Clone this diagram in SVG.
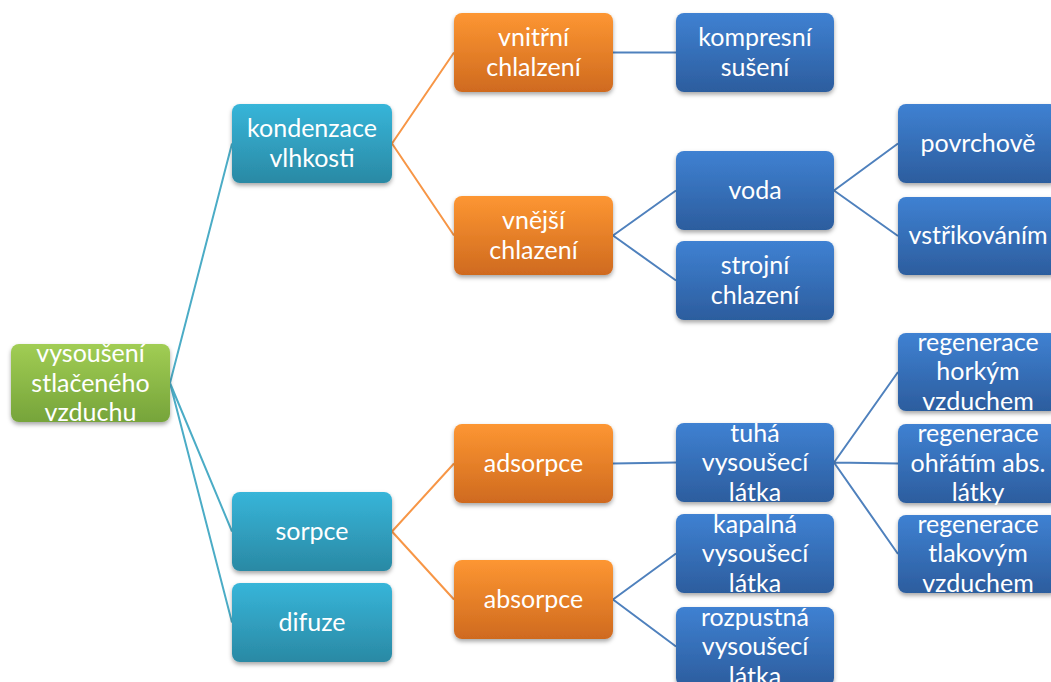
<svg xmlns="http://www.w3.org/2000/svg" width="1051" height="682" viewBox="0 0 1051 682">
<defs>
<linearGradient id="gGreen" x1="0" y1="0" x2="0" y2="1"><stop offset="0" stop-color="#a1cd54"/><stop offset="1" stop-color="#76a43a"/></linearGradient>
<linearGradient id="gTeal" x1="0" y1="0" x2="0" y2="1"><stop offset="0" stop-color="#37b5d9"/><stop offset="1" stop-color="#2a89a4"/></linearGradient>
<linearGradient id="gOrange" x1="0" y1="0" x2="0" y2="1"><stop offset="0" stop-color="#fd9632"/><stop offset="1" stop-color="#cf6a1f"/></linearGradient>
<linearGradient id="gBlue" x1="0" y1="0" x2="0" y2="1"><stop offset="0" stop-color="#3f81d2"/><stop offset="1" stop-color="#2c5d9e"/></linearGradient>
<filter id="sh" x="-10%" y="-10%" width="120%" height="130%"><feDropShadow dx="0" dy="2.5" stdDeviation="2" flood-color="#000" flood-opacity="0.35"/></filter>
</defs>
<style>
.box{filter:url(#sh)}
.g{fill:url(#gGreen)}
.t{fill:url(#gTeal)}
.o{fill:url(#gOrange)}
.b{fill:url(#gBlue)}
text{font-family:Lato,"Liberation Sans",sans-serif;font-size:25px;fill:#fff;text-anchor:middle}
.lt{stroke:#4bacc6;stroke-width:2;fill:none}
.lo{stroke:#f79646;stroke-width:2;fill:none}
.lb{stroke:#4f81bd;stroke-width:2;fill:none}
</style>
<rect width="1051" height="682" fill="#fff"/>
<g id="connectors">
<path class="lt" d="M170 383 L232 143.5 M170 383 L232 531.5 M170 383 L232 622.5"/>
<path class="lo" d="M392 143.5 L454 52.5 M392 143.5 L454 235.5 M392 531.5 L454 463.5 M392 531.5 L454 599.5"/>
<path class="lb" d="M613 52.5 L676 52.5 M613 235.5 L676 190.5 M613 235.5 L676 280.5 M834 190.5 L898 143.5 M834 190.5 L898 236 M613 463.5 L676 462.5 M613 599.5 L676 553.5 M613 599.5 L676 646.5 M834 462.5 L898 372 M834 462.5 L898 463.5 M834 462.5 L898 554"/>
</g>
<g id="n-root"><rect class="box g" x="11" y="344" width="159" height="78" rx="8"/><text x="90.5" y="362">vysoušení</text><text x="90.5" y="391.5">stlačeného</text><text x="90.5" y="421">vzduchu</text></g>
<g id="n-kondenzace"><rect class="box t" x="232" y="104" width="160" height="79" rx="8"/><text x="312" y="137">kondenzace</text><text x="312" y="166.5">vlhkosti</text></g>
<g id="n-sorpce"><rect class="box t" x="232" y="492" width="160" height="79" rx="8"/><text x="312" y="539.5">sorpce</text></g>
<g id="n-difuze"><rect class="box t" x="232" y="583" width="160" height="79" rx="8"/><text x="312" y="630.5">difuze</text></g>
<g id="n-vnitrni"><rect class="box o" x="454" y="13" width="159" height="79" rx="8"/><text x="533.5" y="46">vnitřní</text><text x="533.5" y="75.5">chlalzení</text></g>
<g id="n-vnejsi"><rect class="box o" x="454" y="196" width="159" height="79" rx="8"/><text x="533.5" y="229">vnější</text><text x="533.5" y="258.5">chlazení</text></g>
<g id="n-adsorpce"><rect class="box o" x="454" y="424" width="159" height="79" rx="8"/><text x="533.5" y="471.5">adsorpce</text></g>
<g id="n-absorpce"><rect class="box o" x="454" y="560" width="159" height="79" rx="8"/><text x="533.5" y="607.5">absorpce</text></g>
<g id="n-kompresni"><rect class="box b" x="676" y="13" width="158" height="79" rx="8"/><text x="755" y="46">kompresní</text><text x="755" y="75.5">sušení</text></g>
<g id="n-voda"><rect class="box b" x="676" y="151" width="158" height="79" rx="8"/><text x="755" y="198.5">voda</text></g>
<g id="n-strojni"><rect class="box b" x="676" y="241" width="158" height="79" rx="8"/><text x="755" y="274">strojní</text><text x="755" y="303.5">chlazení</text></g>
<g id="n-tuha"><rect class="box b" x="676" y="423" width="158" height="79" rx="8"/><text x="755" y="441.5">tuhá</text><text x="755" y="471">vysoušecí</text><text x="755" y="500.5">látka</text></g>
<g id="n-kapalna"><rect class="box b" x="676" y="514" width="158" height="79" rx="8"/><text x="755" y="532.5">kapalná</text><text x="755" y="562">vysoušecí</text><text x="755" y="591.5">látka</text></g>
<g id="n-rozpustna"><rect class="box b" x="676" y="607" width="158" height="79" rx="8"/><text x="755" y="625.5">rozpustná</text><text x="755" y="655">vysoušecí</text><text x="755" y="684.5">látka</text></g>
<g id="n-povrchove"><rect class="box b" x="898" y="104" width="160" height="79" rx="8"/><text x="978" y="151.5">povrchově</text></g>
<g id="n-vstrikovanim"><rect class="box b" x="898" y="197" width="160" height="78" rx="8"/><text x="978" y="244">vstřikováním</text></g>
<g id="n-reg1"><rect class="box b" x="898" y="333" width="160" height="78" rx="8"/><text x="978" y="350.5">regenerace</text><text x="978" y="380">horkým</text><text x="978" y="409.5">vzduchem</text></g>
<g id="n-reg2"><rect class="box b" x="898" y="424" width="160" height="79" rx="8"/><text x="978" y="442">regenerace</text><text x="978" y="471.5">ohřátím abs.</text><text x="978" y="501">látky</text></g>
<g id="n-reg3"><rect class="box b" x="898" y="515" width="160" height="78" rx="8"/><text x="978" y="532.5">regenerace</text><text x="978" y="562">tlakovým</text><text x="978" y="591.5">vzduchem</text></g>
</svg>
